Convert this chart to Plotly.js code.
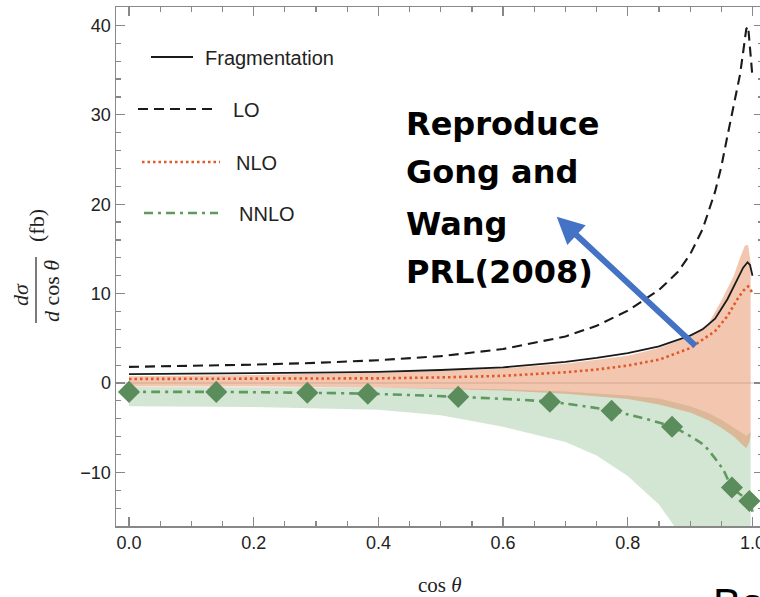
<!DOCTYPE html>
<html>
<head>
<meta charset="utf-8">
<script src="https://cdn.plot.ly/plotly-3.0.1.min.js"></script>
<style>html,body{margin:0;padding:0;background:#fff;overflow:hidden;}#chart{width:764px;height:597px;}</style>
</head>
<body>
<div id="chart"></div>
<script>
// ---- data ----
const fragX = [0,0.1,0.2,0.3,0.4,0.5,0.6,0.7,0.75,0.8,0.85,0.88,0.9,0.92,0.94,0.96,0.975,0.985,0.992,0.996,1.0];
const fragY = [1.0,1.03,1.08,1.15,1.25,1.45,1.75,2.35,2.8,3.35,4.1,4.8,5.3,6.0,7.2,9.4,11.5,12.9,13.5,13.2,12.0];

const loX = [0,0.1,0.2,0.3,0.4,0.5,0.6,0.65,0.7,0.75,0.8,0.85,0.88,0.9,0.92,0.94,0.95,0.96,0.97,0.98,0.985,0.99,0.993,0.996,0.998,1.0];
const loY = [1.8,1.9,2.05,2.25,2.55,3.0,3.8,4.5,5.2,6.4,8.1,10.4,12.4,14.4,17.2,21.4,24.2,27.7,31.2,34.5,37.0,39.6,39.9,37.5,35.5,34.2];

const nloX = [0,0.2,0.4,0.5,0.6,0.7,0.75,0.8,0.85,0.9,0.94,0.96,0.975,0.985,0.993,1.0];
const nloY = [0.45,0.47,0.52,0.62,0.8,1.2,1.5,1.95,2.6,3.9,5.8,7.5,9.3,10.3,10.8,10.1];

const nnloX = [0,0.14,0.286,0.383,0.528,0.675,0.774,0.871,0.921,0.953,0.967,0.985,0.995,1.0];
const nnloY = [-1.0,-1.0,-1.1,-1.2,-1.55,-2.1,-3.1,-4.9,-6.9,-9.7,-11.7,-12.7,-13.2,-14.4];

const markX = [0,0.14,0.286,0.383,0.528,0.675,0.774,0.871,0.967,0.995];
const markY = [-1.0,-1.0,-1.1,-1.2,-1.55,-2.1,-3.1,-4.9,-11.7,-13.2];

// NLO uncertainty band
const nloUpX = [0,0.2,0.4,0.5,0.6,0.7,0.8,0.85,0.9,0.93,0.95,0.96,0.97,0.98,0.988,0.993,0.997];
const nloUpY = [0.75,0.9,1.15,1.35,1.65,2.15,3.05,3.9,5.2,6.7,9.2,10.6,12.0,14.0,15.4,15.4,13.5];
const nloLoX = [0,0.2,0.4,0.6,0.7,0.8,0.85,0.9,0.93,0.95,0.97,0.98,0.99,0.995,0.997];
const nloLoY = [-0.4,-0.4,-0.5,-0.85,-1.2,-1.8,-2.4,-3.3,-4.2,-5.0,-6.0,-6.6,-7.3,-6.6,-5.8];

// NNLO uncertainty band
const nnloUpX = [0,0.4,0.6,0.7,0.8,0.85,0.9,0.93,0.95,0.97,0.98,0.99,0.997];
const nnloUpY = [-0.45,-0.5,-0.7,-0.95,-1.4,-1.75,-2.6,-3.4,-4.1,-5.0,-5.5,-5.9,-5.5];
const nnloLoX = [0,0.2,0.4,0.5,0.6,0.7,0.75,0.8,0.85,0.9,0.95,0.997];
const nnloLoY = [-2.6,-2.7,-3.0,-3.6,-4.9,-6.6,-8.1,-10.4,-13.6,-18.5,-27,-40];

const xTickVals = [0,0.2,0.4,0.6,0.8,1.0];
const xTickText = ['0.0','0.2','0.4','0.6','0.8','1.0'];
const yTickVals = [-10,0,10,20,30,40];

const legendNames = ['Fragmentation','LO','NLO','NNLO'];
const noteLines = ['Reproduce','Gong and','Wang','PRL(2008)'];

// ---- styles ----
const cBlack = '#1a1a1a';
const cOrange = '#e0582a';
const cGreen = '#5e9a5e';
const cMarker = '#5b8c5b';

function band(ux, uy, lx, ly) {
  return {
    x: ux.concat(lx.slice().reverse()),
    y: uy.concat(ly.slice().reverse())
  };
}
const gB = band(nnloUpX, nnloUpY, nnloLoX, nnloLoY);
const oB = band(nloUpX, nloUpY, nloLoX, nloLoY);

const traces = [
  {x: gB.x, y: gB.y, type: 'scatter', mode: 'lines', fill: 'toself',
   fillcolor: 'rgba(110,170,110,0.30)', line: {width: 0}, hoverinfo: 'skip', showlegend: false},
  {x: oB.x, y: oB.y, type: 'scatter', mode: 'lines', fill: 'toself',
   fillcolor: 'rgba(228,128,80,0.45)', line: {width: 0}, hoverinfo: 'skip', showlegend: false},
  {x: nnloX, y: nnloY, type: 'scatter', mode: 'lines', name: 'NNLO',
   line: {color: cGreen, width: 2.6, dash: '9px,5px,3px,5px', shape: 'spline', smoothing: 0.6}, showlegend: false},
  {x: nloX, y: nloY, type: 'scatter', mode: 'lines', name: 'NLO',
   line: {color: cOrange, width: 2.6, dash: '2.5px,3px'}, showlegend: false},
  {x: fragX, y: fragY, type: 'scatter', mode: 'lines', name: 'Fragmentation',
   line: {color: cBlack, width: 1.8}, showlegend: false},
  {x: loX, y: loY, type: 'scatter', mode: 'lines', name: 'LO',
   line: {color: cBlack, width: 2.1, dash: '10px,6px'}, showlegend: false},
  {x: markX, y: markY, type: 'scatter', mode: 'markers', name: 'NNLO points',
   marker: {symbol: 'diamond', size: 17, color: cMarker}, showlegend: false}
];

// plot-area geometry in pixels (frame runs just past the right edge of the window)
const W = 764, H = 597;
const L = 116, R = 763, T = 7, B = 526;
const px = v => (v - L) / (R - L);
const py = v => (B - v) / (B - T);

const legendStyle = [
  {x0: 151, x1: 193, y: 57, ty: 58, tx: 203, color: cBlack, width: 1.8, dash: 'solid'},
  {x0: 138, x1: 215, y: 109, ty: 110, tx: 231, color: cBlack, width: 2.1, dash: '10px,6px'},
  {x0: 142, x1: 220, y: 162, ty: 163, tx: 234, color: cOrange, width: 2.6, dash: '2.5px,3px'},
  {x0: 144, x1: 218, y: 213, ty: 214, tx: 237, color: cGreen, width: 2.6, dash: '9px,5px,3px,5px'}
];

const shapes = [];
const annotations = [];
legendNames.forEach((name, i) => {
  const s = legendStyle[i];
  shapes.push({type: 'line', xref: 'paper', yref: 'paper',
    x0: px(s.x0), x1: px(s.x1), y0: py(s.y), y1: py(s.y),
    line: {color: s.color, width: s.width, dash: s.dash}});
  annotations.push({xref: 'paper', yref: 'paper', x: px(s.tx), y: py(s.ty),
    xanchor: 'left', yanchor: 'middle', showarrow: false, text: name,
    font: {family: 'Liberation Sans, Arial, sans-serif', size: 20, color: '#222'}});
});

// big note text
const noteCenters = [124, 172, 224, 272];
noteLines.forEach((t, i) => {
  annotations.push({xref: 'paper', yref: 'paper', x: px(404), y: py(noteCenters[i]),
    xanchor: 'left', yanchor: 'middle', showarrow: false, text: '<b>' + t + '</b>',
    font: {family: 'DejaVu Sans, sans-serif', size: 32, color: '#000'}});
});

// blue arrow
annotations.push({xref: 'x', yref: 'y', axref: 'x', ayref: 'y',
  x: 0.686, y: 18.6, ax: 0.911, ay: 4.0, text: '', showarrow: true,
  arrowhead: 2, arrowsize: 0.9, arrowwidth: 6, arrowcolor: '#4472c4'});

// y-axis title as a fraction
const serif = 'Liberation Serif, Times New Roman, serif';
const rot = (x, y, text) => ({xref: 'paper', yref: 'paper', x: px(x), y: py(y),
  xanchor: 'center', yanchor: 'middle', textangle: -90, showarrow: false, text: text,
  font: {family: serif, size: 22, color: '#222'}});
annotations.push(rot(21, 295, '<i>dσ</i>'));
annotations.push(rot(51, 291, '<i>d</i> cos <i>θ</i>'));
annotations.push(rot(37, 226, '(fb)'));
shapes.push({type: 'line', xref: 'paper', yref: 'paper',
  x0: px(36), x1: px(36), y0: py(323), y1: py(257), line: {color: '#222', width: 1.2}});

// x-axis title
annotations.push({xref: 'paper', yref: 'paper', x: px(440), y: py(585),
  xanchor: 'center', yanchor: 'middle', borderpad: 0,
  showarrow: false, text: 'cos <i>θ</i>', font: {family: serif, size: 21, color: '#222'}});

// cut-off slide text at the bottom right
annotations.push({xref: 'paper', yref: 'paper', x: px(711), y: py(578),
  xanchor: 'left', yanchor: 'top', showarrow: false, text: 'Ba',
  font: {family: 'Liberation Sans, Arial, sans-serif', size: 42, color: '#000'}});

const axisCommon = {
  showline: true, linecolor: '#888', linewidth: 1.5, mirror: 'allticks',
  ticks: 'inside', ticklen: 9, tickwidth: 1.3, tickcolor: '#888',
  showgrid: false, ticklabeloverflow: 'allow',
  tickfont: {family: 'Liberation Sans, Arial, sans-serif', size: 18, color: '#222'}
};

// x range from pixel geometry: 0 at px 129, 1.0 at px 752.5
const xPerPx = 1 / 623.5;
const layout = {
  width: W, height: H,
  margin: {l: L, r: W - R, t: T, b: H - B, pad: 0},
  paper_bgcolor: '#fff', plot_bgcolor: '#fff',
  showlegend: false,
  xaxis: Object.assign({}, axisCommon, {
    range: [(L - 129) * xPerPx, (R - 129) * xPerPx], tickvals: xTickVals, ticktext: xTickText,
    zeroline: false,
    minor: {ticks: 'inside', ticklen: 5, tickwidth: 1.2, tickcolor: '#888', dtick: 0.05, tick0: 0, showgrid: false}
  }),
  yaxis: Object.assign({}, axisCommon, {
    range: [-16.0, 42.06], tickvals: yTickVals,
    zeroline: true, zerolinecolor: '#e2e2e2', zerolinewidth: 1.2,
    minor: {ticks: 'inside', ticklen: 5, tickwidth: 1.2, tickcolor: '#888', dtick: 2, tick0: 0, showgrid: false}
  }),
  shapes: shapes,
  annotations: annotations
};

Plotly.newPlot('chart', traces, layout, {displayModeBar: false, staticPlot: true});
</script>
</body>
</html>
